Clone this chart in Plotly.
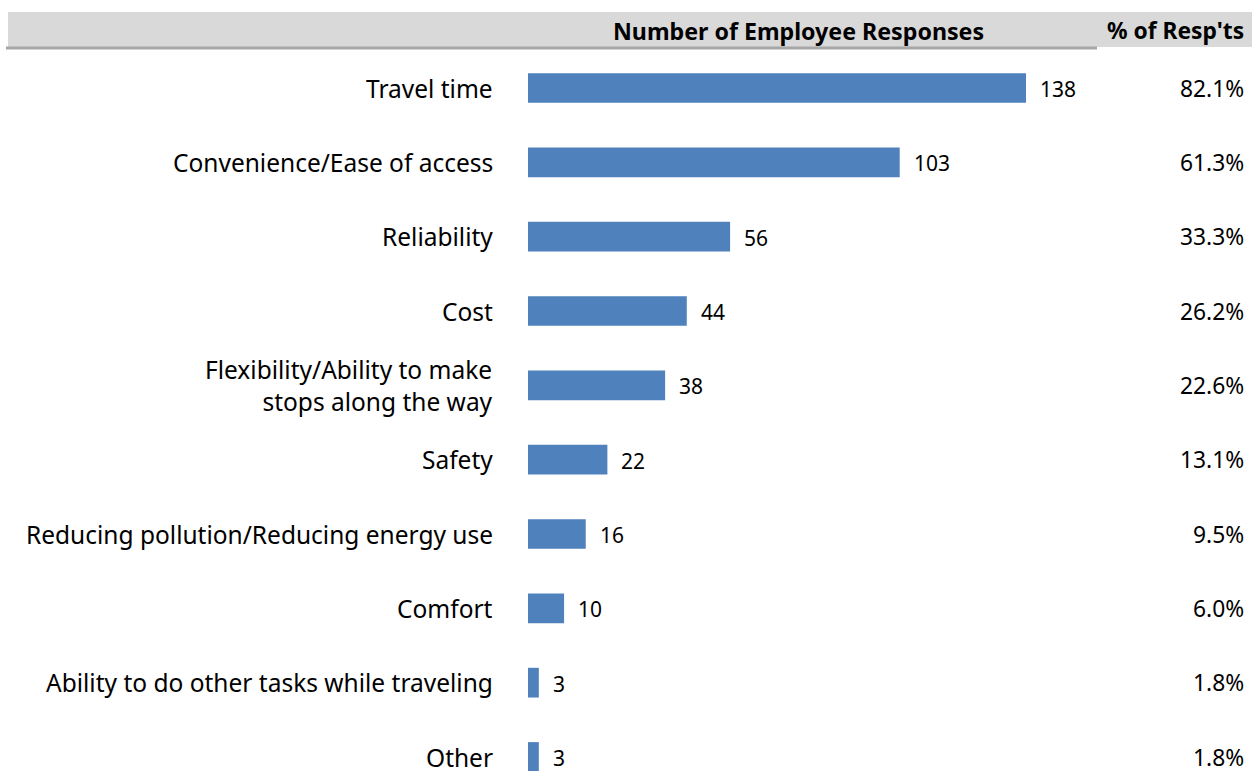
import plotly.graph_objects as go

categories = [
    "Travel time",
    "Convenience/Ease of access",
    "Reliability",
    "Cost",
    "Flexibility/Ability to make<br>stops along the way",
    "Safety",
    "Reducing pollution/Reducing energy use",
    "Comfort",
    "Ability to do other tasks while traveling",
    "Other",
]
responses = [138, 103, 56, 44, 38, 22, 16, 10, 3, 3]
pct_labels = ["82.1%", "61.3%", "33.3%", "26.2%", "22.6%", "13.1%", "9.5%", "6.0%", "1.8%", "1.8%"]

W, H = 1252, 771
LABEL_FONT = "Noto Sans"
BAR_COLOR = "#4F81BD"

positions = list(range(len(categories)))

fig = go.Figure()
fig.add_trace(go.Bar(
    x=responses,
    y=positions,
    orientation="h",
    width=0.40,
    marker=dict(color=BAR_COLOR, line=dict(width=0)),
    hoverinfo="skip",
))

annotations = []
# value labels next to bars
for p, v in zip(positions, responses):
    annotations.append(dict(
        x=v, y=p, xref="x", yref="y", text=str(v), showarrow=False,
        xanchor="left", yanchor="middle", xshift=12, yshift=-1,
        font=dict(family="Noto Sans", size=21, color="#000000"),
    ))
# category labels
for p, c in zip(positions, categories):
    annotations.append(dict(
        x=495 / W, y=p, xref="paper", yref="y", text=c, showarrow=False,
        xanchor="right", yanchor="middle", align="right",
        font=dict(family=LABEL_FONT, size=24.5, color="#000000"),
    ))
# percent column
for p, t in zip(positions, pct_labels):
    annotations.append(dict(
        x=1246 / W, y=p, xref="paper", yref="y", text=t, showarrow=False,
        xanchor="right", yanchor="middle",
        font=dict(family=LABEL_FONT, size=22.8, color="#000000"),
    ))
# headers
annotations.append(dict(
    x=798 / W, y=1 - 31 / H, xref="paper", yref="paper",
    text="<b>Number of Employee Responses</b>", showarrow=False,
    xanchor="center", yanchor="middle",
    font=dict(family=LABEL_FONT, size=23.2, color="#000000"),
))
annotations.append(dict(
    x=1246 / W, y=1 - 31 / H, xref="paper", yref="paper",
    text="<b>% of Resp'ts</b>", showarrow=False,
    xanchor="right", yanchor="middle",
    font=dict(family=LABEL_FONT, size=22.8, color="#000000"),
))

shapes = [
    dict(type="rect", xref="paper", yref="paper",
         x0=8 / W, x1=1.0, y0=1 - 47 / H, y1=1 - 12 / H,
         fillcolor="#D9D9D9", line=dict(width=0), layer="below"),
    dict(type="rect", xref="paper", yref="paper",
         x0=6 / W, x1=1097 / W, y0=1 - 49.5 / H, y1=1 - 46.5 / H,
         fillcolor="#A6A6A6", line=dict(width=0), layer="below"),
]

px_per_unit = (1026 - 528) / 138.0
x_max = (W - 528) / px_per_unit
row_px = (757 - 88) / 9.0
y_bottom = (H - 88) / row_px

fig.update_layout(
    width=W, height=H,
    margin=dict(l=0, r=0, t=0, b=0),
    paper_bgcolor="#FFFFFF",
    plot_bgcolor="rgba(0,0,0,0)",
    showlegend=False,
    bargap=0.6,
    xaxis=dict(domain=[528 / W, 1.0], range=[0, x_max], visible=False, fixedrange=True),
    yaxis=dict(domain=[0, 1 - 51 / H], range=[y_bottom, -(88 - 51) / row_px],
               visible=False, fixedrange=True),
    annotations=annotations,
    shapes=shapes,
)

fig.write_html("out.html")
